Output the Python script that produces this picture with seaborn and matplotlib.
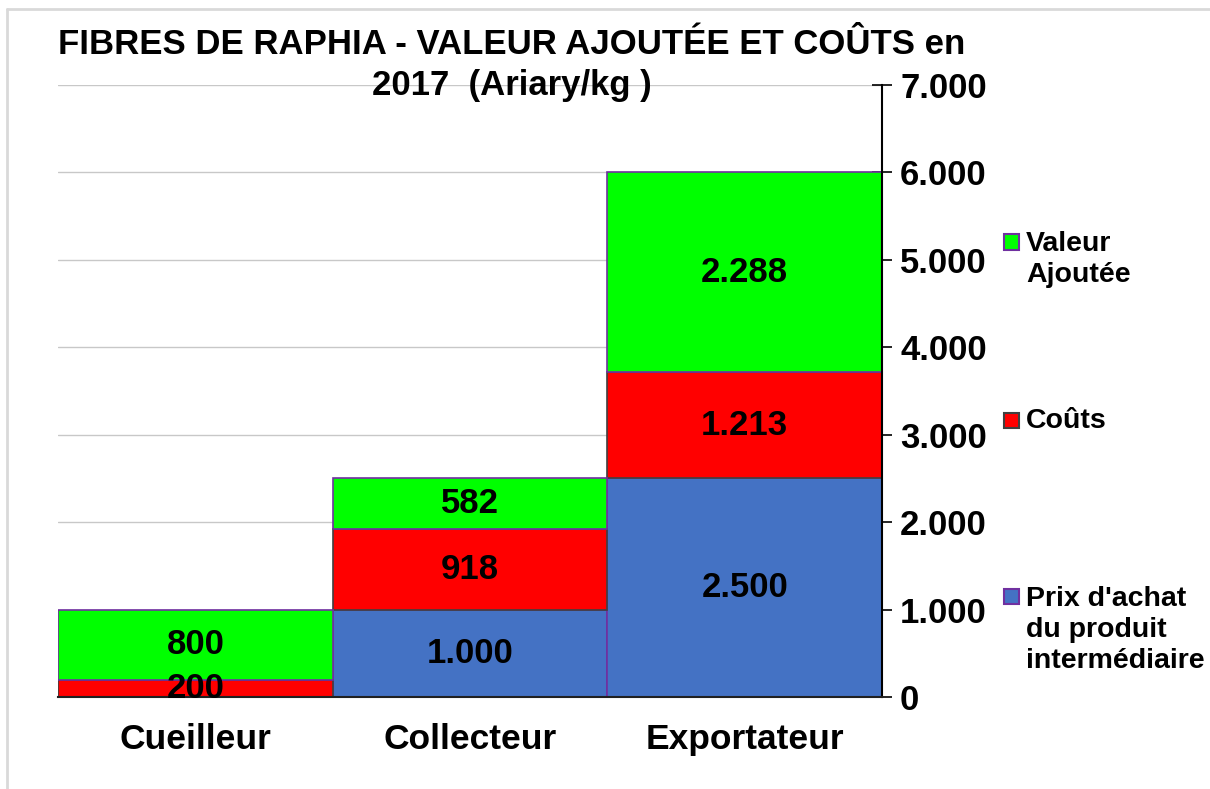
import matplotlib
matplotlib.use("Agg")
import matplotlib.pyplot as plt
import numpy as np
import pandas as pd
import seaborn as sns
from matplotlib.patches import Rectangle
from matplotlib.lines import Line2D
from matplotlib.ticker import FuncFormatter

categories = ["Cueilleur", "Collecteur", "Exportateur"]
prix_achat = [0, 1000, 2500]
couts = [200, 918, 1213]
valeur_ajoutee = [800, 582, 2288]
series_names = ["Valeur\nAjoutée", "Coûts", "Prix d'achat\ndu produit\nintermédiaire"]
title_lines = ["FIBRES DE RAPHIA - VALEUR AJOUTÉE ET COÛTS en", "2017  (Ariary/kg )"]

sns.set_style("white")
plt.rcParams["font.family"] = ["Liberation Sans", "DejaVu Sans"]
plt.rcParams["font.weight"] = "bold"
plt.rcParams["text.color"] = "black"
plt.rcParams["xtick.color"] = "black"
plt.rcParams["ytick.color"] = "black"

W, H = 1210, 789
fig = plt.figure(figsize=(W / 100, H / 100), dpi=100)
ax = fig.add_axes([58 / W, 1 - 697 / H, (882 - 58) / W, (697 - 85) / H])


def fmt(v):
    return f"{int(v):,}".replace(",", ".")


df = pd.DataFrame(
    {"cat": categories, "prix": prix_achat, "couts": couts, "va": valeur_ajoutee}
)
bottom_couts = df["prix"].values
bottom_va = df["prix"].values + df["couts"].values

layers = [
    ("prix", np.zeros(3), "#4472C4", "#7030A0"),
    ("couts", bottom_couts, "#FF0000", "#404040"),
    ("va", bottom_va, "#00FF00", "#7030A0"),
]
for col, bottom, color, edge in layers:
    sns.barplot(
        data=df,
        x="cat",
        y=col,
        bottom=bottom,
        width=1.0,
        color=color,
        edgecolor=edge,
        linewidth=1.2,
        saturation=1,
        ax=ax,
        zorder=2,
    )
    for i, v in enumerate(df[col].values):
        if v > 0:
            ax.text(
                i,
                bottom[i] + v / 2,
                fmt(v),
                ha="center",
                va="center",
                fontsize=25,
                fontweight="bold",
                color="black",
                zorder=4,
            )

ax.set_xlim(-0.5, 2.5)
ax.set_ylim(0, 7000)
ax.set_yticks(np.arange(0, 7001, 1000))
ax.yaxis.set_major_formatter(FuncFormatter(lambda v, p: fmt(v)))
ax.yaxis.tick_right()
ax.yaxis.grid(True, color="#C8C8C8", linewidth=1)
ax.set_axisbelow(True)
ax.tick_params(axis="y", direction="inout", length=14, width=1.2, pad=6,
               labelsize=25, colors="black")
ax.tick_params(axis="x", length=0, pad=19, labelsize=25.5, colors="black")
for lab in ax.get_xticklabels() + ax.get_yticklabels():
    lab.set_fontweight("bold")
ax.set_xlabel("")
ax.set_ylabel("")
ax.spines["left"].set_visible(False)
ax.spines["top"].set_visible(False)
ax.spines["right"].set_color("black")
ax.spines["right"].set_linewidth(1.5)
ax.spines["bottom"].set_color("#202020")
ax.spines["bottom"].set_linewidth(1.5)

for line, yc in zip(title_lines, [45, 85]):
    fig.text(512 / W, 1 - yc / H, line, ha="center", va="center",
             fontsize=25, fontweight="bold", color="black")

# legend, drawn entry by entry to keep the wide spacing of the original
legend_items = [
    (series_names[0], "#00FF00", "#7030A0", 242, 231),
    (series_names[1], "#FF0000", "#404040", 420, 408),
    (series_names[2], "#4472C4", "#7030A0", 596, 586),
]
for label, color, edge, yc, ytop in legend_items:
    fig.patches.append(
        Rectangle((1004 / W, 1 - (yc + 7.5) / H), 15 / W, 15 / H,
                  transform=fig.transFigure, facecolor=color, edgecolor=edge,
                  linewidth=1.5)
    )
    fig.text(1026 / W, 1 - ytop / H, label, ha="left", va="top",
             fontsize=20.5, fontweight="bold", linespacing=1.25, color="black")

# light frame of the chart area
fig.add_artist(Line2D([7 / W, 7 / W], [0, 1 - 9 / H], color="#D9D9D9",
                      linewidth=2, transform=fig.transFigure))
fig.add_artist(Line2D([7 / W, 1], [1 - 9 / H, 1 - 9 / H], color="#D9D9D9",
                      linewidth=2, transform=fig.transFigure))

fig.savefig("out.png", dpi=100)
